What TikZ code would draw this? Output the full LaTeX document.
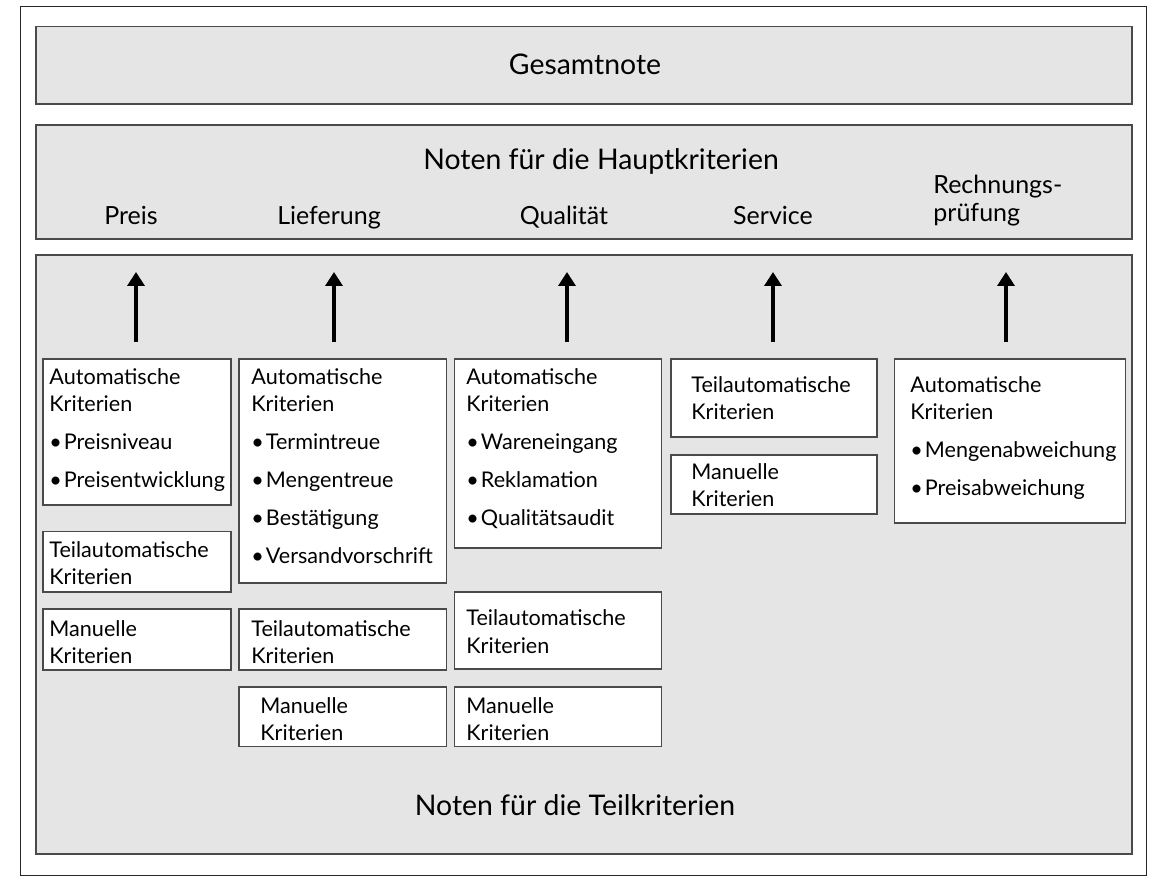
\documentclass[tikz,border=0pt]{standalone}
\usepackage{fontspec}
\setmainfont{Lato}
\usetikzlibrary{arrows.meta,fit}
\definecolor{panel}{HTML}{E5E5E5}
\definecolor{edge}{HTML}{4A4A4A}
\newcommand{\crit}[1]{\begin{tabular}[t]{@{}l@{}}#1\end{tabular}}
\newcommand{\bul}{\textbullet\kern1pt}
\begin{document}
\begin{tikzpicture}[x=0.5pt,y=-0.5pt,
  frame/.style={draw=black!85, line width=0.7pt},
  panelbox/.style={draw=edge, fill=panel, line width=0.75pt, inner sep=0pt},
  critbox/.style={draw=edge, fill=white, line width=0.7pt, inner sep=0pt},
  boxtext/.style={anchor=base west, inner sep=0pt, font=\fontsize{10.8}{13.5}\selectfont},
  headtext/.style={anchor=base, inner sep=0pt, font=\fontsize{14.2}{17}\selectfont},
  coltext/.style={anchor=base, inner sep=0pt, font=\fontsize{12.5}{14}\selectfont},
  uparrow/.style={line width=2pt, -{Triangle[length=7pt,width=8.5pt]}}]
\useasboundingbox (0,0) rectangle (1157,881);
\fill[white] (0,0) rectangle (1157,881);
\node[frame, fit={(20.5,6.5)(1146.5,875.5)}, inner sep=0pt] (outer) {};
% panels
\node[panelbox, fit={(36,26.5)(1132,104)}] (gesamt) {};
\node[panelbox, fit={(36,125)(1132,239)}] (haupt) {};
\node[panelbox, fit={(36,255)(1132,854)}] (teil) {};
\node[headtext] (tgesamt) at (585,75) {Gesamtnote};
\node[headtext] (thaupt) at (601,170) {Noten für die Hauptkriterien};
\node[headtext] (tteil) at (575,815) {Noten für die Teilkriterien};
\node[coltext] (cpreis) at (131,225) {Preis};
\node[coltext] (cliefer) at (329,225) {Lieferung};
\node[coltext] (cqual) at (564,225) {Qualität};
\node[coltext] (cserv) at (773,225) {Service};
\node[coltext, anchor=base west] (crech) at (933,194) {\crit{Rechnungs-\\prüfung}};
% arrows
\foreach \i/\x in {1/136,2/334,3/567,4/773,5/1006}{
  \coordinate (s\i) at (\x,342);
  \coordinate (e\i) at (\x,272);
  \draw[uparrow] (s\i) -- (e\i);
}
% column 1
\node[critbox, fit={(43,359)(231,505)}] (p1) {};
\node[boxtext] (tp1) at (49,385) {\crit{Automatische\\Kriterien\\[5.5pt]\bul Preisniveau\\[5.5pt]\bul Preisentwicklung}};
\node[critbox, fit={(43,531.5)(231,592)}] (p2) {};
\node[boxtext] (tp2) at (49,558) {\crit{Teilautomatische\\Kriterien}};
\node[critbox, fit={(43,609)(231,670)}] (p3) {};
\node[boxtext] (tp3) at (49,637) {\crit{Manuelle\\Kriterien}};
% column 2
\node[critbox, fit={(239,359)(446.5,583)}] (l1) {};
\node[boxtext] (tl1) at (251,385) {\crit{Automatische\\Kriterien\\[5.5pt]\bul Termintreue\\[5.5pt]\bul Mengentreue\\[5.5pt]\bul Bestätigung\\[5.5pt]\bul Versandvorschrift}};
\node[critbox, fit={(239,609)(446.5,670)}] (l2) {};
\node[boxtext] (tl2) at (251,637) {\crit{Teilautomatische\\Kriterien}};
\node[critbox, fit={(239,687)(446.5,746.5)}] (l3) {};
\node[boxtext] (tl3) at (260,713) {\crit{Manuelle\\Kriterien}};
% column 3
\node[critbox, fit={(454.5,359)(661.5,548)}] (q1) {};
\node[boxtext] (tq1) at (466,385) {\crit{Automatische\\Kriterien\\[5.5pt]\bul Wareneingang\\[5.5pt]\bul Reklamation\\[5.5pt]\bul Qualitätsaudit}};
\node[critbox, fit={(454.5,592)(661.5,669)}] (q2) {};
\node[boxtext] (tq2) at (466,626) {\crit{Teilautomatische\\Kriterien}};
\node[critbox, fit={(454.5,687)(661.5,746.5)}] (q3) {};
\node[boxtext] (tq3) at (466,713) {\crit{Manuelle\\Kriterien}};
% column 4
\node[critbox, fit={(671,359)(877,437)}] (s1) {};
\node[boxtext] (ts1) at (691,393) {\crit{Teilautomatische\\Kriterien}};
\node[critbox, fit={(671,455)(877,514)}] (s2) {};
\node[boxtext] (ts2) at (691,480) {\crit{Manuelle\\Kriterien}};
% column 5
\node[critbox, fit={(894.5,359)(1125.5,523)}] (r1) {};
\node[boxtext] (tr1) at (910,393) {\crit{Automatische\\Kriterien\\[5.5pt]\bul Mengenabweichung\\[5.5pt]\bul Preisabweichung}};
\end{tikzpicture}
\end{document}
